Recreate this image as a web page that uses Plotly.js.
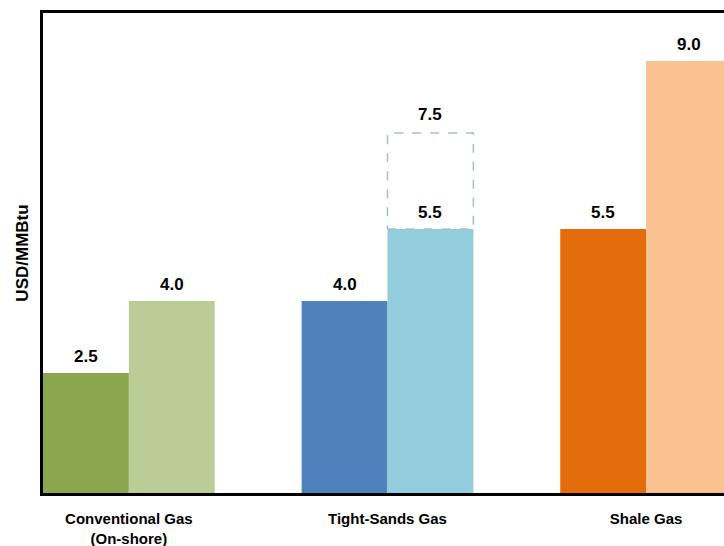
<!DOCTYPE html>
<html>
<head>
<meta charset="utf-8">
<script src="https://cdn.plot.ly/plotly-3.0.1.min.js"></script>
<style>
html,body{margin:0;padding:0;overflow:hidden;background:#fff;}
#chart{width:770px;height:546px;}
</style>
</head>
<body>
<div id="chart"></div>
<script>
// ---- data ----
var categories = ["Conventional Gas<br>(On-shore)", "Tight-Sands Gas", "Shale Gas"];
var lowValues = [2.5, 4.0, 5.5];
var highValues = [4.0, 5.5, 9.0];
var tightUpperValue = 7.5;      // dashed upper estimate for tight-sands gas
var upperIndex = 1;
var lowColors = ["#8AA64E", "#4F81BD", "#E46C0A"];
var highColors = ["#BACD96", "#93CDDD", "#F9C090"];

var bargap = 0.336;
var barW = (1 - bargap) / 2;

var traces = [
  {type: "bar", x: categories, y: lowValues, marker: {color: lowColors}, hoverinfo: "y"},
  {type: "bar", x: categories, y: highValues, marker: {color: highColors}, hoverinfo: "y"}
];

var annotations = [];
var lblFont = {family: "Liberation Sans, Arial, sans-serif", size: 17, color: "#000", weight: "bold"};
function addLabel(xpos, val, shift) {
  annotations.push({xref: "x", yref: "y", x: xpos, y: val, text: val.toFixed(1),
    showarrow: false, yanchor: "bottom", yshift: shift, font: lblFont});
}
for (var i = 0; i < categories.length; i++) {
  addLabel(i - barW / 2, lowValues[i], 5);
  addLabel(i + barW / 2, highValues[i], 5);
}
addLabel(upperIndex + barW / 2, tightUpperValue, 7);

var shapes = [{
  type: "rect", xref: "x", yref: "y",
  x0: upperIndex, x1: upperIndex + barW,
  y0: highValues[upperIndex], y1: tightUpperValue,
  line: {color: "#A9BDD6", width: 1.5, dash: "dash"},
  fillcolor: "rgba(0,0,0,0)", layer: "above"
}];

var layout = {
  width: 770, height: 546,
  margin: {l: 43, r: 0, t: 13, b: 53},
  paper_bgcolor: "#fff", plot_bgcolor: "#fff",
  showlegend: false,
  barmode: "group", bargap: bargap, bargroupgap: 0,
  font: {family: "Liberation Sans, Arial, sans-serif", color: "#000"},
  xaxis: {
    type: "category", range: [-0.332, 2.479],
    showline: true, linecolor: "#000", linewidth: 3, mirror: true,
    showgrid: false, zeroline: false, ticks: "", ticklabelstandoff: 10,
    tickfont: {size: 15, family: "Liberation Sans, Arial, sans-serif", weight: "bold"}
  },
  yaxis: {
    range: [0, 10],
    showline: true, linecolor: "#000", linewidth: 3, mirror: true,
    showgrid: false, zeroline: false, ticks: "", showticklabels: false,
    title: {text: "<b>USD/MMBtu</b>", font: {size: 17}, standoff: 8}
  },
  annotations: annotations,
  shapes: shapes
};

Plotly.newPlot("chart", traces, layout, {displayModeBar: false, staticPlot: true});
</script>
</body>
</html>
